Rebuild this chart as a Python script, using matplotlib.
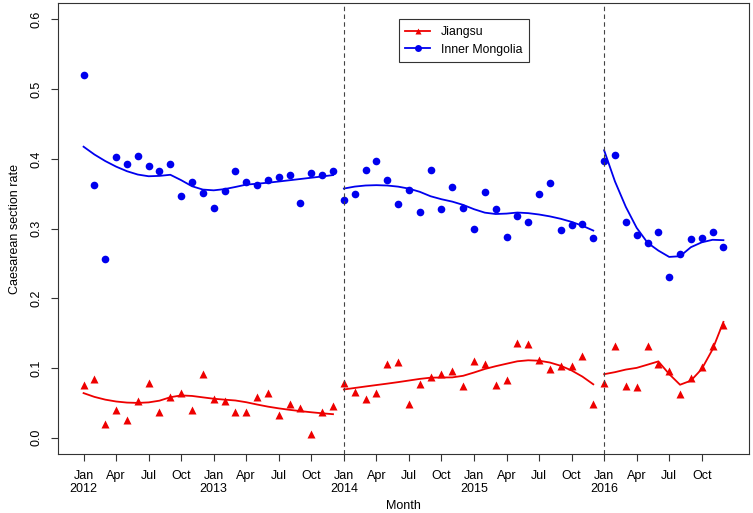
import numpy as np
import matplotlib
matplotlib.use("Agg")
import matplotlib.pyplot as plt

plt.rcParams['font.family'] = ['Liberation Sans', 'DejaVu Sans']

# monthly series, Jan 2012 .. Dec 2016
jiangsu = [0.076, 0.084, 0.019, 0.039, 0.025, 0.052, 0.078, 0.037, 0.058, 0.064, 0.040, 0.091,
           0.055, 0.053, 0.036, 0.037, 0.058, 0.064, 0.032, 0.048, 0.042, 0.005, 0.037, 0.046,
           0.079, 0.065, 0.056, 0.064, 0.106, 0.109, 0.048, 0.077, 0.087, 0.091, 0.095, 0.074,
           0.110, 0.106, 0.075, 0.083, 0.136, 0.134, 0.111, 0.099, 0.103, 0.103, 0.117, 0.048,
           0.078, 0.131, 0.074, 0.073, 0.131, 0.106, 0.096, 0.062, 0.085, 0.101, 0.132, 0.162]
inner_mongolia = [0.520, 0.363, 0.256, 0.402, 0.393, 0.404, 0.390, 0.382, 0.393, 0.347, 0.367, 0.351,
                  0.329, 0.354, 0.382, 0.367, 0.363, 0.370, 0.374, 0.377, 0.337, 0.379, 0.377, 0.382,
                  0.341, 0.349, 0.384, 0.397, 0.369, 0.335, 0.355, 0.324, 0.384, 0.328, 0.359, 0.329,
                  0.300, 0.353, 0.328, 0.288, 0.318, 0.309, 0.349, 0.366, 0.298, 0.305, 0.307, 0.286,
                  0.397, 0.406, 0.309, 0.290, 0.279, 0.295, 0.231, 0.263, 0.285, 0.286, 0.295, 0.274]
month_names = ["Jan", "Apr", "Jul", "Oct"]
years = [2012, 2013, 2014, 2015, 2016]
breaks = [0, 24, 48, 60]  # fitted separately: 2012-13, 2014-15, 2016


def loess(x, y, span=0.75, degree=2):
    x = np.asarray(x, float)
    y = np.asarray(y, float)
    n = len(x)
    q = int(np.floor(n * span))
    fit = np.empty(n)
    for k, x0 in enumerate(x):
        d = np.abs(x - x0)
        h = np.sort(d)[q - 1] * 1.0001
        w = np.clip(1 - (d / h) ** 3, 0, None) ** 3
        coef = np.polyfit(x, y, degree, w=np.sqrt(w))
        fit[k] = np.polyval(coef, x0)
    return fit


months = np.arange(len(jiangsu))

fig = plt.figure(figsize=(7.53, 5.13), dpi=100)
ax = fig.add_axes([0.077, 0.1144, 0.9177, 0.8803])

ax.plot(months, jiangsu, '^', color='#ee0000', ms=5.5, mec='none')
ax.plot(months, inner_mongolia, 'o', color='#0000ee', ms=5.5, mec='none')
for a, b in zip(breaks[:-1], breaks[1:]):
    xs = months[a:b]
    ax.plot(xs, loess(xs, jiangsu[a:b]), color='#ee0000', lw=1.3)
    ax.plot(xs, loess(xs, inner_mongolia[a:b]), color='#0000ee', lw=1.3)

for b in breaks[1:-1]:
    ax.axvline(b, color='#444444', lw=0.8, ls=(0, (4, 3)))

ax.set_xlim(-0.04 * 59, 59 * 1.04)
ax.set_ylim(-0.024, 0.624)

ticks = np.arange(0, 60, 3)
labels = []
for t in ticks:
    name = month_names[(t % 12) // 3]
    if t % 12 == 0:
        name += "\n" + str(years[t // 12])
    labels.append(name)
ax.set_xticks(ticks)
ax.set_xticklabels(labels, fontsize=9, linespacing=1.2)
ax.set_yticks(np.arange(0, 0.61, 0.1))
ax.set_yticklabels([f"{v:.1f}" for v in np.arange(0, 0.61, 0.1)], fontsize=9,
                   rotation=90, va='center')
ax.tick_params(direction='out', length=5, width=0.8, color='#333333', pad=6)
for s in ax.spines.values():
    s.set_linewidth(0.8)
    s.set_color('#333333')

ax.set_xlabel("Month", fontsize=9, labelpad=3)
ax.set_ylabel("Caesarean section rate", fontsize=9, labelpad=7)

h1, = ax.plot([], [], '-^', color='#ee0000', ms=5, lw=1.3, mec='none')
h2, = ax.plot([], [], '-o', color='#0000ee', ms=5, lw=1.3, mec='none')
leg = ax.legend([h1, h2], ["Jiangsu", "Inner Mongolia"], loc='upper left',
                bbox_to_anchor=(0.493, 0.963), fontsize=8.8, fancybox=False,
                edgecolor='#333333', framealpha=1, borderpad=0.55, handlelength=2.0,
                handletextpad=0.9, labelspacing=0.45, borderaxespad=0)
leg.get_frame().set_linewidth(0.8)

fig.savefig("out.png", dpi=100)
